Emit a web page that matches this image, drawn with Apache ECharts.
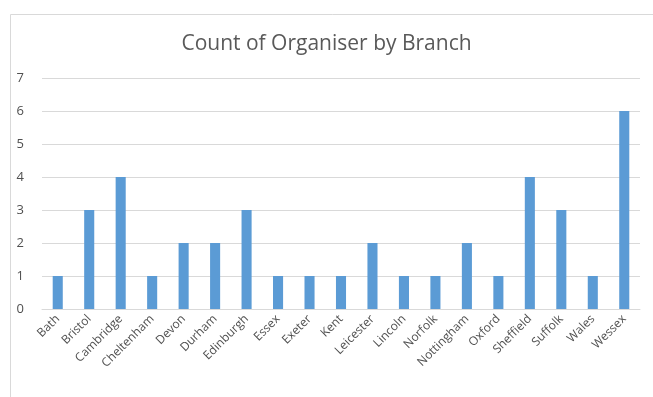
<!DOCTYPE html>
<html><head><meta charset="utf-8">
<script src="https://cdn.jsdelivr.net/npm/echarts@6/dist/echarts.min.js"></script>
<style>html,body{margin:0;padding:0;background:#fff}#c{width:653px;height:397px}</style>
</head><body><div id="c"></div>
<script>
const categories = ["Bath","Bristol","Cambridge","Cheltenham","Devon","Durham","Edinburgh","Essex","Exeter","Kent","Leicester","Lincoln","Norfolk","Nottingham","Oxford","Sheffield","Suffolk","Wales","Wessex"];
const counts = [1,3,4,1,2,2,3,1,1,1,2,1,1,2,1,4,3,1,6];
const yTicks = [0,1,2,3,4,5,6,7];
const chart = echarts.init(document.getElementById('c'));
chart.setOption({
  animation:false,
  graphic:[{type:'rect',left:8,top:12,shape:{width:700,height:420},style:{fill:'none',stroke:'#d9d9d9',lineWidth:1},silent:true}],
  title:{text:'Count of Organiser by Branch',left:'center',top:29,textStyle:{fontFamily:'Open Sans',fontWeight:'normal',fontSize:21,color:'#595959'}},
  grid:{left:42,right:13,top:78,bottom:88},
  xAxis:{type:'category',data:categories,axisTick:{show:false},axisLine:{lineStyle:{color:'#d9d9d9'}},
    axisLabel:{rotate:45,interval:0,color:'#505050',fontFamily:'Open Sans',fontSize:12,margin:8}},
  yAxis:{type:'value',min:yTicks[0],max:yTicks[yTicks.length-1],interval:1,
    axisLabel:{color:'#505050',fontFamily:'Open Sans',fontSize:13,margin:18},
    splitLine:{lineStyle:{color:'#d9d9d9'}},axisLine:{show:false},axisTick:{show:false}},
  series:[{type:'bar',data:counts,barWidth:'32%',itemStyle:{color:'#5B9BD5'}}]
});
</script></body></html>
